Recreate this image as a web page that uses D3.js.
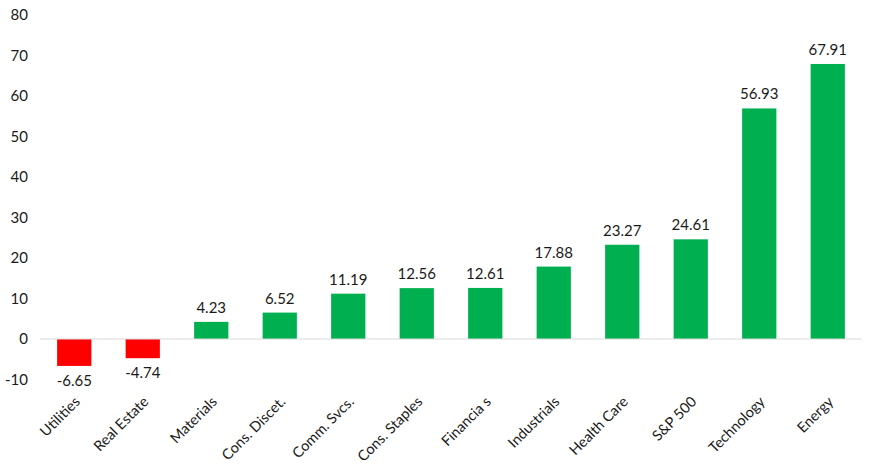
<!DOCTYPE html>
<html><head><meta charset="utf-8">
<script src="https://cdn.jsdelivr.net/npm/d3@7"></script>
<style>body{margin:0;background:#fff}svg{display:block}</style>
</head><body>
<script>
const categories = ["Utilities","Real Estate","Materials","Cons. Discet.","Comm. Svcs.","Cons. Staples","Financia s","Industrials","Health Care","S&P 500","Technology","Energy"];
const values = [-6.65,-4.74,4.23,6.52,11.19,12.56,12.61,17.88,23.27,24.61,56.93,67.91];
const yTicks = [-10,0,10,20,30,40,50,60,70,80];

const W=872,H=467;
const svg=d3.select("body").append("svg").attr("width",W).attr("height",H);
const font="Lato, 'Open Sans', sans-serif";
const x=d3.scaleBand().domain(categories).range([40,862]).paddingInner(0.5).paddingOuter(0.25);
const y=d3.scaleLinear().domain([-10,80]).range([379.5,15]);

// y labels
svg.append("g").selectAll("text").data(yTicks).join("text")
  .attr("x",28).attr("y",d=>y(d)).attr("dy","0.35em").attr("text-anchor","end")
  .attr("font-family",font).attr("font-size",15).attr("fill","#1a1a1a").text(d=>d);

// bars
svg.append("g").selectAll("rect").data(values).join("rect")
  .attr("x",(d,i)=>x(categories[i])).attr("width",x.bandwidth())
  .attr("y",d=>y(Math.max(0,d))).attr("height",d=>Math.abs(y(d)-y(0)))
  .attr("fill",d=>d<0?"#FF0000":"#00B050");

// zero line
svg.append("line").attr("x1",40).attr("x2",862).attr("y1",y(0)).attr("y2",y(0))
  .attr("stroke","#d9d9d9").attr("stroke-width",1);

// value labels
svg.append("g").selectAll("text").data(values).join("text")
  .attr("x",(d,i)=>x(categories[i])+x.bandwidth()/2)
  .attr("y",d=>d<0?y(d)+20:y(d)-9)
  .attr("text-anchor","middle").attr("font-family",font).attr("font-size",15).attr("fill","#1a1a1a")
  .text(d=>d.toFixed(2));

// category labels
svg.append("g").selectAll("text").data(categories).join("text")
  .attr("transform",d=>`translate(${x(d)+x.bandwidth()/2+3},${399}) rotate(-45)`)
  .attr("text-anchor","end").attr("dy","0.35em")
  .attr("font-family",font).attr("font-size",14.5).attr("fill","#1a1a1a").text(d=>d);
</script>
</body></html>
